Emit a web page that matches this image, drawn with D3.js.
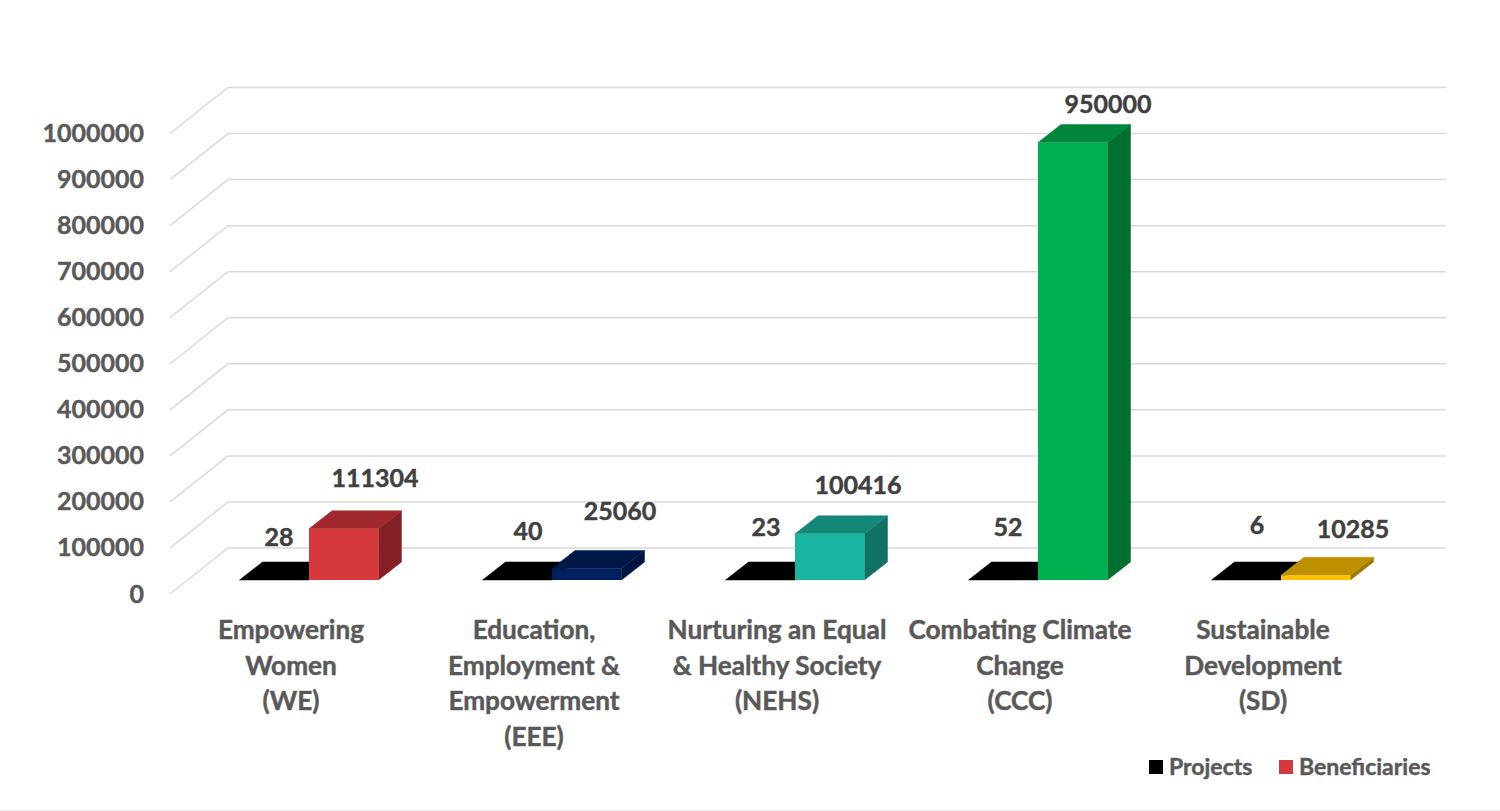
<!DOCTYPE html>
<meta charset="utf-8">
<style>
html, body { margin: 0; background: #fff; }
svg { display: block; }
text { font-family: Lato, "Liberation Sans", sans-serif; font-weight: 700; stroke-width: .45; }
.tick text, .cat { fill: #595959; stroke: #595959; }
.val { fill: #404040; stroke: #404040; text-anchor: middle; }
.grid { fill: none; stroke: #d9d9d9; stroke-width: 1.5; }
</style>
<svg class="chart"></svg>
<script src="https://d3js.org/d3.v7.min.js"></script>
<script>

var categories = [
  ["Empowering", "Women", "(WE)"],
  ["Education,", "Employment &", "Empowerment", "(EEE)"],
  ["Nurturing an Equal", "& Healthy Society", "(NEHS)"],
  ["Combating Climate", "Change", "(CCC)"],
  ["Sustainable", "Development", "(SD)"]
];
var projects = [28, 40, 23, 52, 6];
var beneficiaries = [111304, 25060, 100416, 950000, 10285];
var yTicks = [0, 100000, 200000, 300000, 400000, 500000, 600000, 700000, 800000, 900000, 1000000];
var legendNames = ["Projects", "Beneficiaries"];

// one colour per category: front, top, side
var front = ["#d5383d", "#002060", "#1ab5a0", "#00b050", "#ffc000"];
var top3d = ["#a1292d", "#001848", "#148878", "#00863c", "#bf9000"];
var side = ["#842124", "#00153f", "#107264", "#00702f", "#9f7800"];

// labels were dragged by hand in the original
var projNudge = [[-30, -43], [-24, -49], [-29, -53], [-30, -53], [-24, -55]];
var benNudge = [[66, -50], [68, -57], [63, -49], [70, -38], [72, -46]];

var width = 1500, height = 811;

var chart = d3.select(".chart")
    .attr("width", width)
    .attr("height", height);

// front edge of the wall/floor
var y = d3.scaleLinear().domain([0, 1000000]).range([594, 133.5]);
var x = d3.scaleBand().domain(d3.range(5)).range([187.5, 1402.5]);

var wallX = 170, wallDx = 58, wallDy = 46, plotRight = 1446;
var barDx = 23, barDy = 18, barLift = 14; // bar depth, and how far the bars stand back from the front edge

var grid = chart.append("g");
grid.selectAll("path")
    .data(yTicks)
  .enter().append("path")
    .attr("class", "grid")
    .attr("d", function(d) {
      return "M" + wallX + "," + y(d) + "L" + (wallX + wallDx) + "," + (y(d) - wallDy) + "L" + plotRight + "," + (y(d) - wallDy);
    });

var axis = chart.append("g")
    .attr("transform", "translate(144,0)")
    .call(d3.axisLeft(y).tickValues(yTicks).tickSize(0).tickPadding(0).tickFormat(d3.format("d")));
axis.select(".domain").remove();
axis.selectAll("text").attr("font-size", 25).attr("font-family", null);

function box(g, x0, w, value, cf, ct, cs) {
  var yb = y(0) - barLift, yt = y(value) - barLift;
  g.append("polygon") // side
    .attr("points", [[x0 + w, yb], [x0 + w + barDx, yb - barDy], [x0 + w + barDx, yt - barDy], [x0 + w, yt]].join(" "))
    .attr("fill", cs).attr("stroke", cs).attr("stroke-width", .5);
  g.append("polygon") // top
    .attr("points", [[x0, yt], [x0 + w, yt], [x0 + w + barDx, yt - barDy], [x0 + barDx, yt - barDy]].join(" "))
    .attr("fill", ct).attr("stroke", ct).attr("stroke-width", .5);
  g.append("rect")
    .attr("x", x0).attr("y", yt)
    .attr("width", w).attr("height", yb - yt)
    .attr("fill", cf);
}

var barW = 69.5;

var groups = chart.selectAll("g.cat-group")
    .data(d3.range(5))
  .enter().append("g")
    .attr("class", "cat-group");

groups.each(function(i) {
  var g = d3.select(this), mid = x(i) + x.bandwidth() / 2;
  box(g, mid - barW, barW, projects[i], "#000", "#000", "#000");
  box(g, mid, barW, beneficiaries[i], front[i], top3d[i], side[i]);

  g.append("text").attr("class", "val")
      .attr("x", mid + projNudge[i][0])
      .attr("y", y(projects[i]) - barLift + projNudge[i][1])
      .attr("dy", ".35em")
      .attr("font-size", 25)
      .text(projects[i]);

  g.append("text").attr("class", "val")
      .attr("x", mid + benNudge[i][0])
      .attr("y", y(beneficiaries[i]) - barLift + benNudge[i][1])
      .attr("dy", ".35em")
      .attr("font-size", 25)
      .text(beneficiaries[i]);

  var label = g.append("text").attr("class", "cat")
      .attr("text-anchor", "middle")
      .attr("font-size", 26.2);
  label.selectAll("tspan")
      .data(categories[i])
    .enter().append("tspan")
      .attr("x", mid - 18)
      .attr("y", function(d, j) { return 639 + j * 35.5; })
      .text(function(d) { return d; });
});

var legendX = [1149, 1279], legendColors = ["#000", front[0]];
var legend = chart.selectAll("g.legend")
    .data(legendNames)
  .enter().append("g")
    .attr("class", "legend")
    .attr("transform", function(d, i) { return "translate(" + legendX[i] + ",760)"; });
legend.append("rect")
    .attr("width", 14).attr("height", 14)
    .attr("fill", function(d, i) { return legendColors[i]; });
legend.append("text")
    .attr("class", "cat")
    .attr("x", 20).attr("y", 15)
    .attr("font-size", 23)
    .text(function(d) { return d; });

// thin rule along the bottom edge of the picture
chart.append("line")
    .attr("x1", 0).attr("x2", width)
    .attr("y1", 810.5).attr("y2", 810.5)
    .attr("stroke", "#eeeeee");

</script>
